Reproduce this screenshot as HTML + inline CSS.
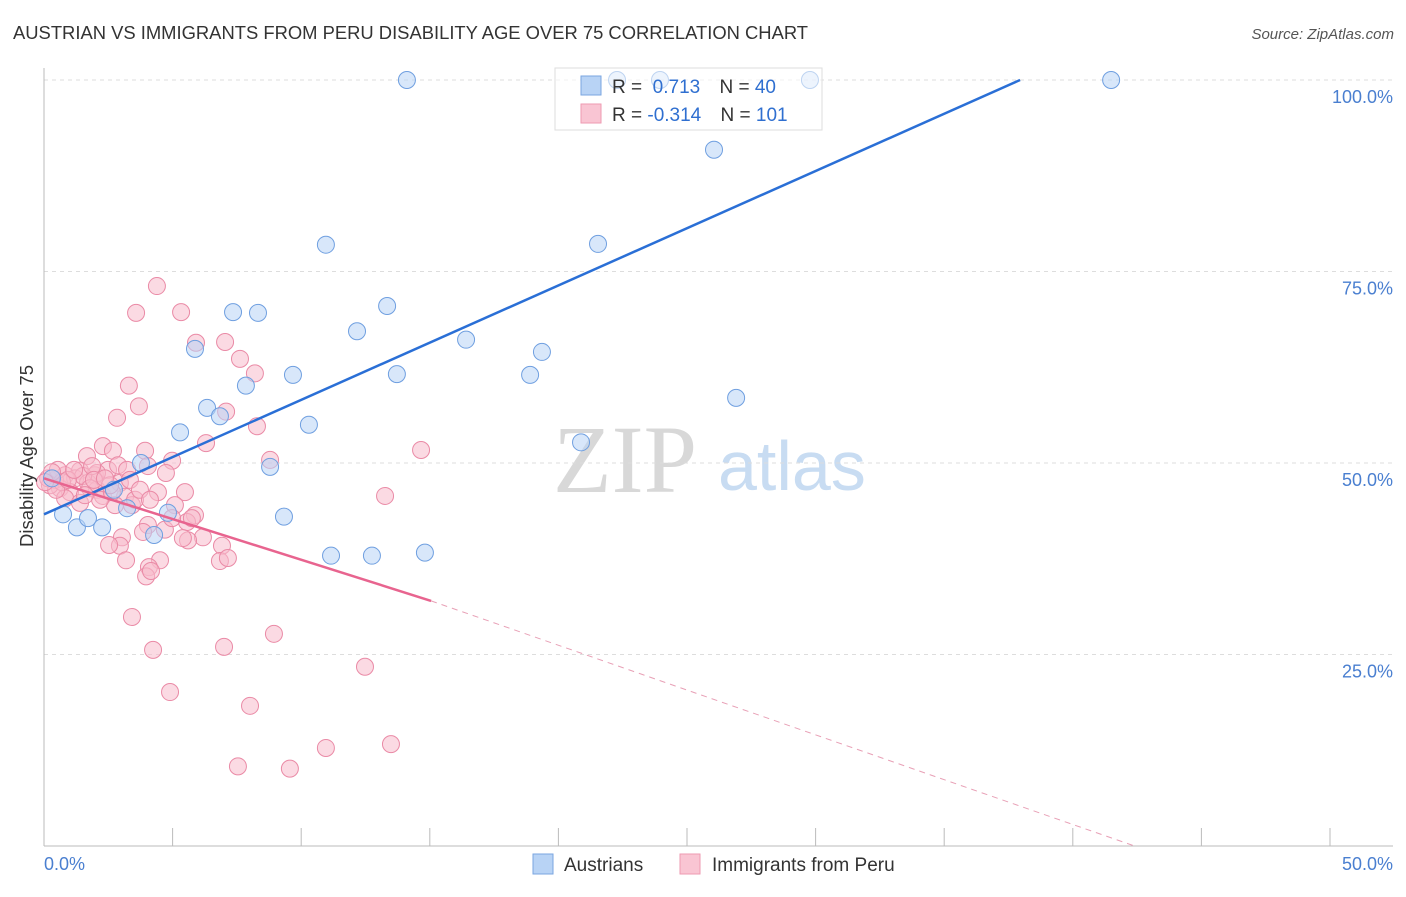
<!DOCTYPE html>
<html><head><meta charset="utf-8"><style>
body{margin:0;background:#fff;font-family:"Liberation Sans",sans-serif}
</style></head><body>
<svg id="chart" width="1406" height="892" xmlns="http://www.w3.org/2000/svg" style="font-family:'Liberation Sans',sans-serif">
<text x="13" y="39" font-size="18.4" fill="#333">AUSTRIAN VS IMMIGRANTS FROM PERU DISABILITY AGE OVER 75 CORRELATION CHART</text>
<text x="1394" y="39" font-size="15" fill="#555" text-anchor="end" font-style="italic">Source: ZipAtlas.com</text>
<g><text x="553" y="492" font-size="96" font-family="Liberation Serif" fill="#d8d8d8">ZIP</text><text x="718" y="490" font-size="70" fill="#c8dcf2">atlas</text></g>
<g id="grid"></g>
<g id="axes"></g>
<g id="pts"></g>
<g id="lines"></g>
<text transform="translate(33,456) rotate(-90)" font-size="18.5" fill="#333" text-anchor="middle">Disability Age Over 75</text>
<text x="44" y="870" font-size="18" fill="#4a7fd0">0.0%</text>
<text x="1393" y="870" font-size="18" fill="#4a7fd0" text-anchor="end">50.0%</text>
<g>
<rect x="555" y="68" width="267" height="62" fill="#fff" fill-opacity="0.55" stroke="#ddd"/>
<rect x="581" y="76" width="20" height="19" fill="#b8d3f5" stroke="#7aa6e0"/>
<rect x="581" y="104" width="20" height="19" fill="#f9c5d3" stroke="#ee9ab2"/>
<text x="612" y="93" font-size="19" fill="#333">R = <tspan fill="#2f6fd0">&#160;0.713</tspan>   <tspan dx="14">N = </tspan><tspan fill="#2f6fd0">40</tspan></text>
<text x="612" y="121" font-size="19" fill="#333">R = <tspan fill="#2f6fd0">-0.314</tspan>   <tspan dx="14">N = </tspan><tspan fill="#2f6fd0">101</tspan></text>
</g>
<g>
<rect x="533" y="854" width="20" height="20" fill="#b8d3f5" stroke="#7aa6e0"/>
<text x="564" y="871" font-size="19" fill="#333">Austrians</text>
<rect x="680" y="854" width="20" height="20" fill="#f9c5d3" stroke="#ee9ab2"/>
<text x="712" y="871" font-size="19" fill="#333">Immigrants from Peru</text>
</g>
</svg>
<script>
const yTicks=[25,50,75,100];
const yTickLabels=["25.0%","50.0%","75.0%","100.0%"];
const xTicks=[0,5,10,15,20,25,30,35,40,45,50];
const bluePx=[[407,80],[660,80],[810,80],[1111,80],[714,150],[326,245],[598,244],[233,312],[258,313],[387,306],[357,331],[466,340],[542,352],[195,349],[293,375],[397,374],[530,375],[246,386],[736,398],[207,408],[220,416],[309,425],[180,432],[581,442],[141,463],[270,467],[52,478],[114,490],[127,508],[284,517],[63,514],[77,527],[88,518],[102,527],[168,513],[154,535],[331,556],[372,556],[425,553],[617,80]];
const pinkPx=[[157,286],[136,313],[181,312],[196,343],[225,342],[240,359],[255,373],[129,386],[139,406],[117,418],[226,412],[257,426],[206,443],[103,446],[113,451],[145,451],[87,456],[172,461],[270,460],[421,450],[148,466],[166,473],[80,471],[65,475],[75,478],[95,475],[108,470],[88,483],[60,488],[70,492],[97,490],[120,483],[158,492],[185,492],[103,496],[125,497],[115,505],[132,505],[65,498],[80,503],[55,480],[50,485],[48,478],[385,496],[175,505],[195,515],[148,525],[165,530],[187,522],[143,532],[203,537],[188,540],[122,537],[120,546],[109,545],[126,560],[222,546],[160,560],[149,567],[146,576],[151,571],[220,561],[228,558],[132,617],[274,634],[224,647],[153,650],[365,667],[170,692],[250,706],[238,766],[290,769],[326,748],[391,744],[97,473],[83,476],[90,488],[58,470],[62,482],[100,500],[112,492],[135,500],[172,518],[183,538],[110,485],[118,465],[92,466],[127,470],[52,472],[56,490],[68,480],[74,470],[85,495],[94,480],[105,478],[130,480],[140,490],[150,500],[192,518],[45,482]];
const austrians=bluePx.map(p=>[+((p[0]-44)*50/1286).toFixed(2),+((846-p[1])*100/766).toFixed(1)]);
const peru=pinkPx.map(p=>[+((p[0]-44)*50/1286).toFixed(2),+((846-p[1])*100/766).toFixed(1)]);
const blueTrend=[[0,43.3],[37.95,100]];
const pinkTrendSolid=[[0,48],[15.05,32]];
const pinkTrendDash=[[15.05,32],[42.4,0]];
const X=v=>44+v*1286/50, Y=v=>846-v*766/100;
const NS="http://www.w3.org/2000/svg";
function mk(t,a,parent){const e=document.createElementNS(NS,t);for(const k in a)e.setAttribute(k,a[k]);document.getElementById(parent).appendChild(e);return e;}
yTicks.forEach((t,i)=>{
 const l=mk('line',{x1:44,x2:1393,y1:Y(t),y2:Y(t),stroke:'#ddd','stroke-dasharray':'4,4'},'grid');
 
 
 const tx=mk('text',{x:1393,y:Y(t)+23,'font-size':18,fill:'#4a7fd0','text-anchor':'end'},'grid');tx.textContent=yTickLabels[i];
 
 
});
let ax=mk('line',{x1:44,x2:44,y1:68,y2:846,stroke:'#bbb'},'axes');


ax=mk('line',{x1:44,x2:1393,y1:846,y2:846,stroke:'#bbb'},'axes');


xTicks.forEach(t=>{const l=mk('line',{x1:X(t),x2:X(t),y1:828,y2:846,stroke:'#bbb'},'axes');
 
 });
function pts(arr,fill,stroke,name){arr.forEach(d=>{const c=mk('circle',{cx:X(d[0]),cy:Y(d[1]),r:8.5,fill:fill,'fill-opacity':0.55,stroke:stroke,'stroke-width':1},'pts');
 
 });}
pts(peru,'#f7bccc','#ea8aa6','peru-point');
pts(austrians,'#b8d3f5','#6f9fe0','austrian-point');
function ln(a,col,w,dash,name){const l=mk('line',{x1:X(a[0][0]),y1:Y(a[0][1]),x2:X(a[1][0]),y2:Y(a[1][1]),stroke:col,'stroke-width':w},'lines');if(dash)l.setAttribute('stroke-dasharray',dash);
 
 }
ln(blueTrend,'#2a6fd6',2.5,null,'austrians-trend-line');
ln(pinkTrendSolid,'#e8648f',2.5,null,'peru-trend-line');
ln(pinkTrendDash,'#e8a0b6',1,'6,5','peru-trend-extension');
</script>
</body></html>
